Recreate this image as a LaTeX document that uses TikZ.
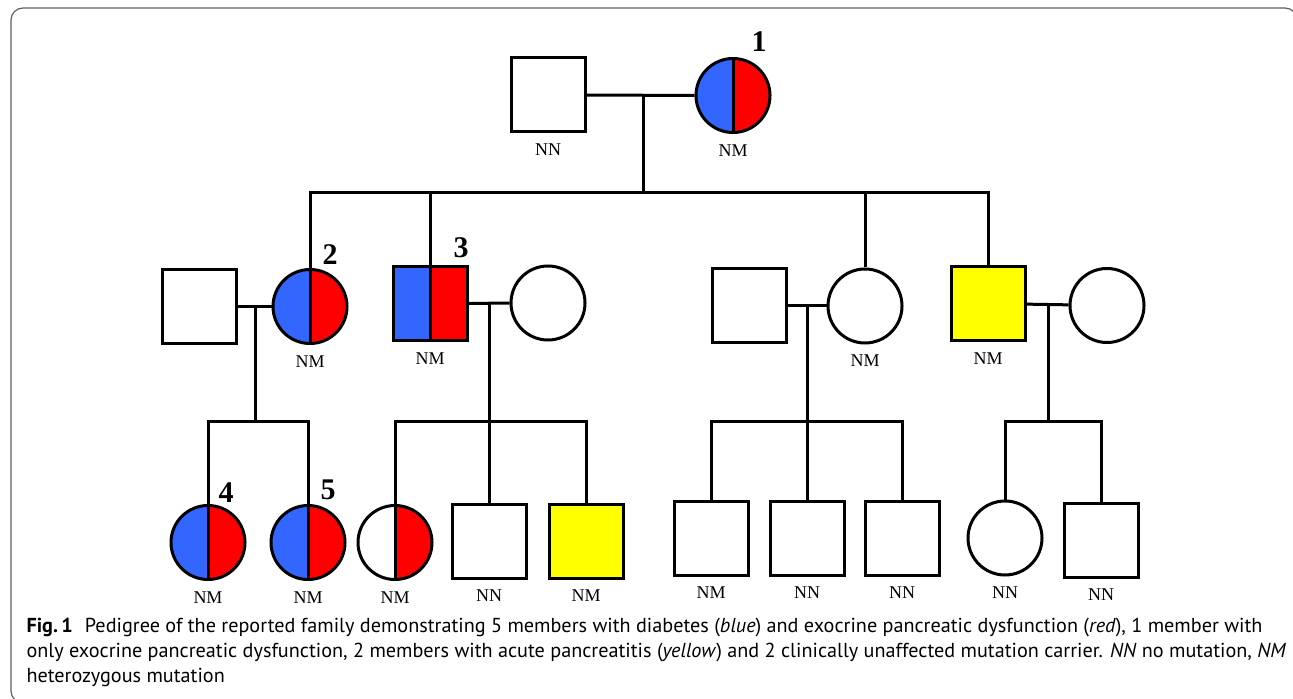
\documentclass[tikz,border=0pt]{standalone}
\usepackage{fontspec}
\setmainfont{Liberation Serif}
\newfontfamily\capfont{PT Sans}
\definecolor{pblue}{RGB}{51,102,255}
\definecolor{pred}{RGB}{255,0,0}
\definecolor{pyellow}{RGB}{255,255,0}
\definecolor{framegray}{RGB}{95,95,95}

\begin{document}
\begin{tikzpicture}[x=0.5pt,y=-0.5pt,line width=1.5pt,
  male/.style={draw,rectangle,minimum size=37pt,inner sep=0pt},
  female/.style={draw,circle,minimum size=37pt,inner sep=0pt},
  dmex/.style={path picture={
    \fill[pblue] (path picture bounding box.south west) rectangle (path picture bounding box.north);
    \fill[pred] (path picture bounding box.south) rectangle (path picture bounding box.north east);
    \draw (path picture bounding box.south) -- (path picture bounding box.north);}},
  exonly/.style={path picture={
    \fill[pred] (path picture bounding box.south) rectangle (path picture bounding box.north east);
    \draw (path picture bounding box.south) -- (path picture bounding box.north);}},
  acute/.style={fill=pyellow},
  gt/.style={font=\fontsize{9}{10}\selectfont,inner sep=2.5pt},
  label distance=2pt,
  num/.style={font=\fontsize{15}{16}\selectfont\bfseries,inner sep=0pt}]
\clip (0,0) rectangle (1293,699);
\draw[framegray,line width=0.6pt,rounded corners=6pt] (11,8) rectangle (1297,703);

\node[male,label={[gt]below:NN}] (gf) at (548,95) {};
\node[female,dmex,label={[gt]below:NM}] (gm) at (733,95.5) {};
\node[num] (n1) at (759,42) {1};

\node[male] (h2) at (199.5,306.5) {};
\node[female,dmex,label={[gt]below:NM}] (p2) at (310,306.5) {};
\node[male,dmex,label={[gt]below:NM}] (p3) at (430,303.5) {};
\node[female] (w3) at (548,303) {};
\node[male] (h4) at (749,306) {};
\node[female,label={[gt]below:NM}] (d4) at (865,306) {};
\node[male,acute,label={[gt]below:NM}] (p5) at (988,303.5) {};
\node[female] (w5) at (1107,305.5) {};
\node[num] (n2) at (330,255) {2};
\node[num] (n3) at (461,248) {3};

\node[female,dmex,label={[gt]below:NM}] (c4) at (208,542.5) {};
\node[female,dmex,label={[gt]below:NM}] (c5) at (308,542.5) {};
\node[female,exonly,label={[gt]below:NM}] (c6) at (395,542.5) {};
\node[male,label={[gt]below:NN}] (c7) at (489,541) {};
\node[male,acute,label={[gt]below:NM}] (c8) at (586,541) {};
\node[male,label={[gt]below:NM}] (c9) at (711,538) {};
\node[male,label={[gt]below:NN}] (c10) at (807,538) {};
\node[male,label={[gt]below:NN}] (c11) at (902,538) {};
\node[female,label={[gt]below:NN}] (c12) at (1005,538) {};
\node[male,label={[gt]below:NN}] (c13) at (1101,540) {};
\node[num] (n4) at (226,493) {4};
\node[num] (n5) at (328,490) {5};

\coordinate (m1) at (643,95);
\coordinate (s1) at (643,193);
\coordinate (m2) at (255,306.5);
\coordinate (s2) at (255,421.7);
\coordinate (m3) at (489,303);
\coordinate (s3) at (489,421.7);
\coordinate (m4) at (807,306);
\coordinate (s4) at (807,421.7);
\coordinate (m5) at (1048,305.5);
\coordinate (s5) at (1048,421.7);

\draw (gf) -- (gm);
\draw (m1) -- (s1);
\draw (p2.north) |- (s1) -| (p5.north);
\draw (p3.north) -- (p3.north |- s1);
\draw (d4.north) -- (d4.north |- s1);

\draw (h2) -- (p2);
\draw (p3) -- (w3);
\draw (h4) -- (d4);
\draw (p5) -- (w5);
\draw (m2) -- (s2);
\draw (m3) -- (s3);
\draw (m4) -- (s4);
\draw (m5) -- (s5);

\draw (c4.north) |- (s2) -| (c5.north);
\draw (c6.north) |- (s3) -| (c8.north);
\draw (c7.north) -- (s3);
\draw (c9.north) |- (s4) -| (c11.north);
\draw (c10.north) -- (s4);
\draw (c12.north) |- (s5) -| (c13.north);

\node[anchor=north west,align=left,inner sep=0pt,
  font=\capfont\fontsize{10.1}{12.5}\selectfont] (cap) at (25,617)
  {\textbf{Fig.\,1}\hspace{0.6em}Pedigree of the reported family demonstrating 5 members with diabetes (\textit{blue}) and exocrine pancreatic dysfunction (\textit{red}), 1 member with\\
  only exocrine pancreatic dysfunction, 2 members with acute pancreatitis (\textit{yellow}) and 2 clinically unaffected mutation carrier. \textit{NN} no mutation, \textit{NM}\\
  heterozygous mutation};
\end{tikzpicture}
\end{document}
